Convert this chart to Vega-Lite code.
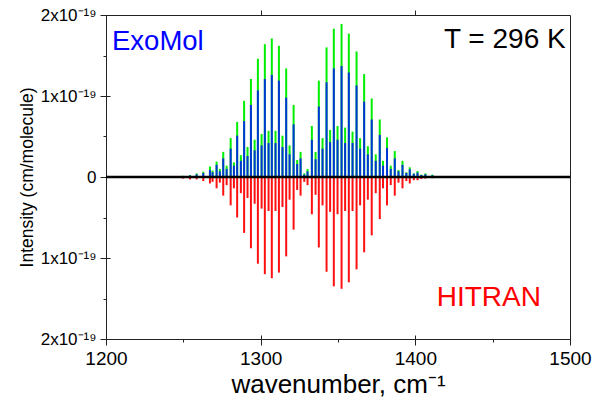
{
  "$schema": "https://vega.github.io/schema/vega-lite/v6.json",
  "width": 464,
  "height": 324,
  "autosize": {"type": "none"},
  "padding": {"left": 106, "top": 15, "right": 36, "bottom": 68},
  "config": {
    "view": {"stroke": "#222", "strokeWidth": 1},
    "font": "Liberation Sans",
    "axis": {"grid": false, "domainColor": "#222", "tickColor": "#222", "labelColor": "#000", "titleColor": "#000", "labelFont": "Liberation Sans", "titleFont": "Liberation Sans", "titleFontWeight": "normal", "labelFlush": false, "labelOverlap": false, "labelBound": false}
  },
  "data": {"values": [
    {"nu": 1249.9, "exomol_a": 0.015e-19, "exomol_b": 0.010e-19, "hitran": 0.020e-19},
    {"nu": 1254.3, "exomol_a": 0.025e-19, "exomol_b": 0.018e-19, "hitran": 0.030e-19},
    {"nu": 1258.6, "exomol_a": 0.045e-19, "exomol_b": 0.033e-19, "hitran": 0.030e-19},
    {"nu": 1262.9, "exomol_a": 0.066e-19, "exomol_b": 0.050e-19, "hitran": 0.050e-19},
    {"nu": 1267.2, "exomol_a": 0.13e-19, "exomol_b": 0.086e-19, "hitran": 0.080e-19},
    {"nu": 1268.9, "exomol_a": 0.08e-19, "exomol_b": 0.06e-19, "hitran": 0.06e-19},
    {"nu": 1271.5, "exomol_a": 0.19e-19, "exomol_b": 0.15e-19, "hitran": 0.14e-19},
    {"nu": 1273.6, "exomol_a": 0.10e-19, "exomol_b": 0.07e-19, "hitran": 0.07e-19},
    {"nu": 1275.8, "exomol_a": 0.31e-19, "exomol_b": 0.23e-19, "hitran": 0.23e-19},
    {"nu": 1278.0, "exomol_a": 0.14e-19, "exomol_b": 0.10e-19, "hitran": 0.10e-19},
    {"nu": 1280.6, "exomol_a": 0.48e-19, "exomol_b": 0.35e-19, "hitran": 0.35e-19},
    {"nu": 1282.7, "exomol_a": 0.18e-19, "exomol_b": 0.14e-19, "hitran": 0.14e-19},
    {"nu": 1284.8, "exomol_a": 0.68e-19, "exomol_b": 0.51e-19, "hitran": 0.50e-19},
    {"nu": 1287.2, "exomol_a": 0.27e-19, "exomol_b": 0.20e-19, "hitran": 0.20e-19},
    {"nu": 1289.3, "exomol_a": 0.94e-19, "exomol_b": 0.69e-19, "hitran": 0.69e-19},
    {"nu": 1291.5, "exomol_a": 0.37e-19, "exomol_b": 0.26e-19, "hitran": 0.26e-19},
    {"nu": 1293.7, "exomol_a": 1.21e-19, "exomol_b": 0.89e-19, "hitran": 0.88e-19},
    {"nu": 1296.1, "exomol_a": 0.46e-19, "exomol_b": 0.33e-19, "hitran": 0.33e-19},
    {"nu": 1298.2, "exomol_a": 1.46e-19, "exomol_b": 1.07e-19, "hitran": 1.07e-19},
    {"nu": 1300.6, "exomol_a": 0.53e-19, "exomol_b": 0.39e-19, "hitran": 0.39e-19},
    {"nu": 1302.7, "exomol_a": 1.64e-19, "exomol_b": 1.21e-19, "hitran": 1.20e-19},
    {"nu": 1305.1, "exomol_a": 0.57e-19, "exomol_b": 0.42e-19, "hitran": 0.42e-19},
    {"nu": 1307.2, "exomol_a": 1.71e-19, "exomol_b": 1.26e-19, "hitran": 1.25e-19},
    {"nu": 1309.6, "exomol_a": 0.57e-19, "exomol_b": 0.42e-19, "hitran": 0.42e-19},
    {"nu": 1311.8, "exomol_a": 1.62e-19, "exomol_b": 1.19e-19, "hitran": 1.18e-19},
    {"nu": 1314.1, "exomol_a": 0.51e-19, "exomol_b": 0.37e-19, "hitran": 0.37e-19},
    {"nu": 1316.5, "exomol_a": 1.34e-19, "exomol_b": 0.98e-19, "hitran": 0.98e-19},
    {"nu": 1318.7, "exomol_a": 0.39e-19, "exomol_b": 0.28e-19, "hitran": 0.28e-19},
    {"nu": 1321.3, "exomol_a": 0.89e-19, "exomol_b": 0.65e-19, "hitran": 0.65e-19},
    {"nu": 1323.6, "exomol_a": 0.21e-19, "exomol_b": 0.16e-19, "hitran": 0.16e-19},
    {"nu": 1325.8, "exomol_a": 0.31e-19, "exomol_b": 0.23e-19, "hitran": 0.23e-19},
    {"nu": 1328.2, "exomol_a": 0.045e-19, "exomol_b": 0.03e-19, "hitran": 0.06e-19},
    {"nu": 1330.3, "exomol_a": 0.10e-19, "exomol_b": 0.07e-19, "hitran": 0.10e-19},
    {"nu": 1333.1, "exomol_a": 0.63e-19, "exomol_b": 0.46e-19, "hitran": 0.46e-19},
    {"nu": 1335.5, "exomol_a": 0.31e-19, "exomol_b": 0.22e-19, "hitran": 0.22e-19},
    {"nu": 1337.6, "exomol_a": 1.19e-19, "exomol_b": 0.87e-19, "hitran": 0.87e-19},
    {"nu": 1340.0, "exomol_a": 0.48e-19, "exomol_b": 0.35e-19, "hitran": 0.35e-19},
    {"nu": 1342.6, "exomol_a": 1.60e-19, "exomol_b": 1.17e-19, "hitran": 1.17e-19},
    {"nu": 1344.9, "exomol_a": 0.58e-19, "exomol_b": 0.43e-19, "hitran": 0.43e-19},
    {"nu": 1347.3, "exomol_a": 1.83e-19, "exomol_b": 1.34e-19, "hitran": 1.35e-19},
    {"nu": 1349.7, "exomol_a": 0.63e-19, "exomol_b": 0.46e-19, "hitran": 0.46e-19},
    {"nu": 1352.3, "exomol_a": 1.89e-19, "exomol_b": 1.37e-19, "hitran": 1.38e-19},
    {"nu": 1354.6, "exomol_a": 0.61e-19, "exomol_b": 0.42e-19, "hitran": 0.42e-19},
    {"nu": 1357.0, "exomol_a": 1.77e-19, "exomol_b": 1.29e-19, "hitran": 1.30e-19},
    {"nu": 1359.4, "exomol_a": 0.56e-19, "exomol_b": 0.42e-19, "hitran": 0.42e-19},
    {"nu": 1362.0, "exomol_a": 1.55e-19, "exomol_b": 1.13e-19, "hitran": 1.14e-19},
    {"nu": 1364.3, "exomol_a": 0.48e-19, "exomol_b": 0.35e-19, "hitran": 0.35e-19},
    {"nu": 1366.9, "exomol_a": 1.27e-19, "exomol_b": 0.93e-19, "hitran": 0.93e-19},
    {"nu": 1369.3, "exomol_a": 0.38e-19, "exomol_b": 0.28e-19, "hitran": 0.28e-19},
    {"nu": 1371.8, "exomol_a": 0.97e-19, "exomol_b": 0.71e-19, "hitran": 0.72e-19},
    {"nu": 1374.4, "exomol_a": 0.28e-19, "exomol_b": 0.20e-19, "hitran": 0.20e-19},
    {"nu": 1377.0, "exomol_a": 0.71e-19, "exomol_b": 0.52e-19, "hitran": 0.52e-19},
    {"nu": 1379.1, "exomol_a": 0.20e-19, "exomol_b": 0.14e-19, "hitran": 0.14e-19},
    {"nu": 1381.7, "exomol_a": 0.49e-19, "exomol_b": 0.36e-19, "hitran": 0.35e-19},
    {"nu": 1384.1, "exomol_a": 0.14e-19, "exomol_b": 0.10e-19, "hitran": 0.10e-19},
    {"nu": 1386.7, "exomol_a": 0.32e-19, "exomol_b": 0.23e-19, "hitran": 0.23e-19},
    {"nu": 1389.1, "exomol_a": 0.086e-19, "exomol_b": 0.07e-19, "hitran": 0.07e-19},
    {"nu": 1391.7, "exomol_a": 0.20e-19, "exomol_b": 0.15e-19, "hitran": 0.14e-19},
    {"nu": 1394.2, "exomol_a": 0.058e-19, "exomol_b": 0.05e-19, "hitran": 0.05e-19},
    {"nu": 1396.4, "exomol_a": 0.12e-19, "exomol_b": 0.095e-19, "hitran": 0.08e-19},
    {"nu": 1399.0, "exomol_a": 0.045e-19, "exomol_b": 0.04e-19, "hitran": 0.04e-19},
    {"nu": 1401.4, "exomol_a": 0.074e-19, "exomol_b": 0.055e-19, "hitran": 0.04e-19},
    {"nu": 1403.9, "exomol_a": 0.03e-19, "exomol_b": 0.025e-19, "hitran": 0.025e-19},
    {"nu": 1406.5, "exomol_a": 0.045e-19, "exomol_b": 0.033e-19, "hitran": 0.02e-19},
    {"nu": 1411.0, "exomol_a": 0.03e-19, "exomol_b": 0.02e-19, "hitran": 0.015e-19}
  ]},
  "layer": [
    {
      "mark": {"type": "rule", "color": "#00ee00", "strokeWidth": 2},
      "encoding": {
        "x": {"field": "nu", "type": "quantitative", "scale": {"domain": [1200, 1500], "nice": false, "zero": false},
          "axis": {"orient": "bottom", "values": [1200, 1250, 1300, 1350, 1400, 1450, 1500], "format": "d",
            "labelExpr": "datum.value % 100 == 0 ? datum.label : ''",
            "tickSize": {"condition": {"test": "datum.value % 100 != 0", "value": 3}, "value": 6},
            "labelFontSize": 19, "labelPadding": 4, "title": "wavenumber, cm⁻¹", "titleFontSize": 26, "titlePadding": 3}},
        "y": {"field": "exomol_a", "type": "quantitative", "scale": {"domain": [-2e-19, 2e-19], "nice": false, "zero": false},
          "axis": {"orient": "left", "values": [-2e-19, -1.5e-19, -1e-19, -5e-20, 0, 5e-20, 1e-19, 1.5e-19, 2e-19],
            "labelExpr": "abs(datum.value) < 1e-21 ? '0' : (abs(round(datum.value*2e19)) % 2 == 1 ? '' : round(abs(datum.value)*1e19) + 'x10⁻¹⁹')",
            "tickSize": {"condition": {"test": "abs(round(datum.value*2e19)) % 2 == 1", "value": 3}, "value": 6},
            "labelFontSize": 17, "labelPadding": 4, "title": "Intensity (cm/molecule)", "titleFontSize": 17.5, "titlePadding": 4}},
        "y2": {"datum": 0}
      }
    },
    {
      "mark": {"type": "rule", "color": "#0036d8", "strokeWidth": 2},
      "encoding": {
        "x": {"field": "nu", "type": "quantitative", "scale": {"domain": [1200, 1500], "nice": false, "zero": false},
          "axis": {"orient": "bottom", "values": [1200, 1300, 1400, 1500], "tickSize": -4, "labels": false, "domain": false, "title": null}},
        "y": {"field": "exomol_b", "type": "quantitative", "scale": {"domain": [-2e-19, 2e-19], "nice": false, "zero": false},
          "axis": {"orient": "left", "values": [-2e-19, -1e-19, 0, 1e-19, 2e-19], "tickSize": -4, "labels": false, "domain": false, "title": null}},
        "y2": {"datum": 0}
      }
    },
    {
      "mark": {"type": "rule", "color": "#ff1010", "strokeWidth": 2},
      "encoding": {
        "x": {"field": "nu", "type": "quantitative", "scale": {"domain": [1200, 1500], "nice": false, "zero": false}, "axis": null},
        "y": {"field": "hitran", "type": "quantitative", "scale": {"domain": [-2e-19, 2e-19], "nice": false, "zero": false, "reverse": true}, "axis": null},
        "y2": {"datum": 0}
      }
    },
    {
      "data": {"values": [{"line": "zero"}]},
      "mark": {"type": "rule", "color": "#000", "strokeWidth": 2.5},
      "encoding": {
        "x": {"datum": 1200, "type": "quantitative", "scale": {"domain": [1200, 1500], "nice": false, "zero": false},
          "axis": {"orient": "top", "values": [1300, 1400], "tickSize": 5, "labels": false, "domain": false, "title": null}},
        "x2": {"datum": 1500},
        "y": {"datum": 0, "type": "quantitative", "scale": {"domain": [-2e-19, 2e-19], "nice": false, "zero": false}, "axis": null}
      }
    },
    {
      "data": {"values": [{"label": "ExoMol"}]},
      "mark": {"type": "text", "color": "#0000ff", "fontSize": 27.5, "align": "left", "baseline": "middle", "font": "Liberation Sans"},
      "encoding": {
        "text": {"field": "label"},
        "x": {"datum": 1203.9, "type": "quantitative", "scale": {"domain": [1200, 1500], "nice": false, "zero": false}, "axis": null},
        "y": {"datum": 1.667e-19, "type": "quantitative", "scale": {"domain": [-2e-19, 2e-19], "nice": false, "zero": false}, "axis": null}
      }
    },
    {
      "data": {"values": [{"label": "T = 296 K"}]},
      "mark": {"type": "text", "color": "#000000", "fontSize": 28, "align": "right", "baseline": "middle", "font": "Liberation Sans"},
      "encoding": {
        "text": {"field": "label"},
        "x": {"datum": 1497.2, "type": "quantitative", "scale": {"domain": [1200, 1500], "nice": false, "zero": false}, "axis": null},
        "y": {"datum": 1.69e-19, "type": "quantitative", "scale": {"domain": [-2e-19, 2e-19], "nice": false, "zero": false}, "axis": null}
      }
    },
    {
      "data": {"values": [{"label": "HITRAN"}]},
      "mark": {"type": "text", "color": "#ff0000", "fontSize": 28, "align": "left", "baseline": "middle", "font": "Liberation Sans"},
      "encoding": {
        "text": {"field": "label"},
        "x": {"datum": 1413.8, "type": "quantitative", "scale": {"domain": [1200, 1500], "nice": false, "zero": false}, "axis": null},
        "y": {"datum": -1.494e-19, "type": "quantitative", "scale": {"domain": [-2e-19, 2e-19], "nice": false, "zero": false}, "axis": null}
      }
    }
  ],
  "resolve": {"scale": {"y": "independent"}, "axis": {"x": "independent", "y": "independent"}}
}
